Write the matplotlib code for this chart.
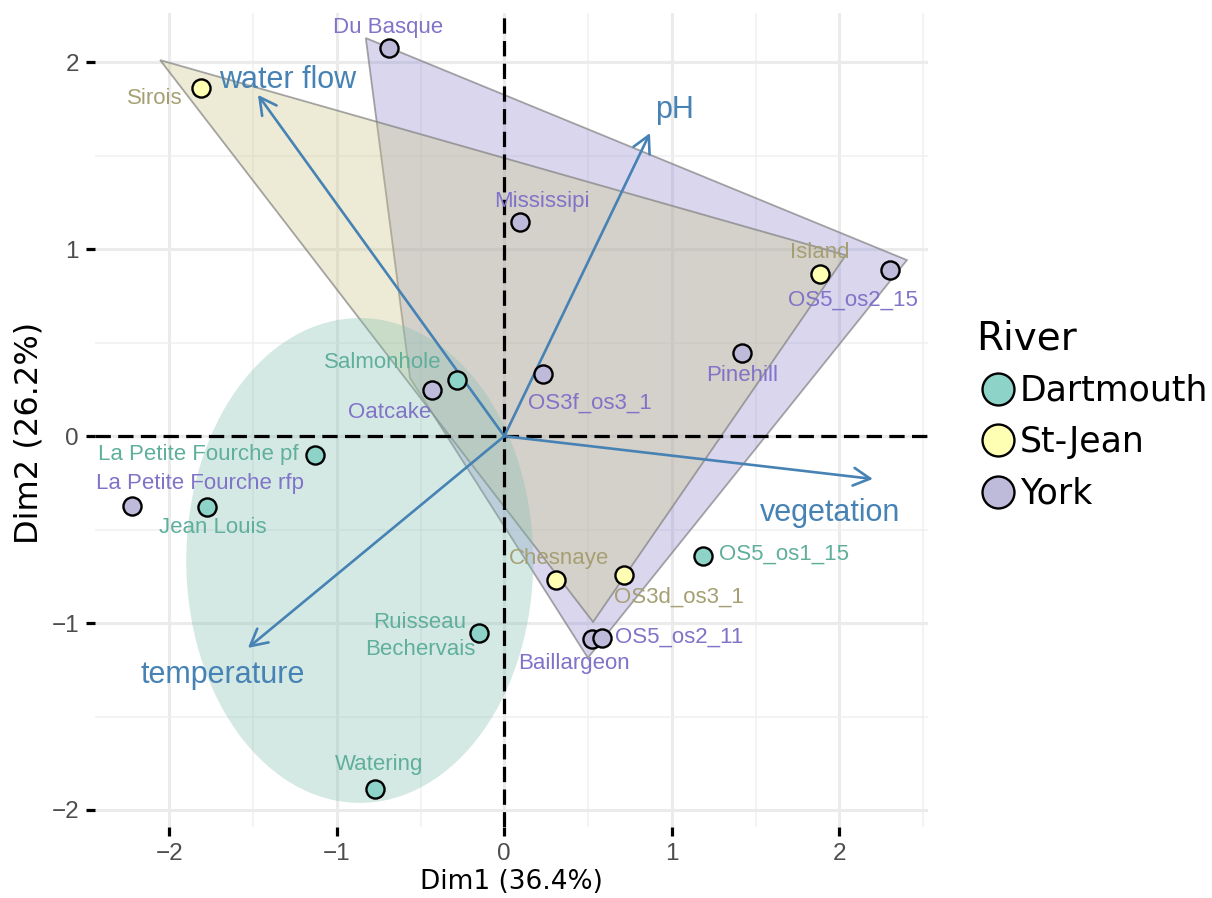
import matplotlib
matplotlib.use('Agg')
import matplotlib.pyplot as plt
from matplotlib.patches import Polygon, Ellipse
from matplotlib.lines import Line2D

plt.rcParams['font.family'] = ['Liberation Sans', 'DejaVu Sans']

# ---------------- data ----------------
sites = ['Sirois', 'Du Basque', 'Mississipi', 'Island', 'OS5_os2_15', 'Pinehill',
         'OS3f_os3_1', 'Salmonhole', 'Oatcake', 'La Petite Fourche pf',
         'La Petite Fourche rfp', 'Jean Louis', 'OS5_os1_15', 'Chesnaye',
         'OS3d_os3_1', 'Baillargeon', 'OS5_os2_11', 'Ruisseau\nBechervais', 'Watering']
rivers = ['St-Jean', 'York', 'York', 'St-Jean', 'York', 'York',
          'York', 'Dartmouth', 'York', 'Dartmouth',
          'York', 'Dartmouth', 'Dartmouth', 'St-Jean',
          'St-Jean', 'York', 'York', 'Dartmouth', 'Dartmouth']
dim1 = [-1.812, -0.688, 0.094, 1.885, 2.303, 1.419,
        0.231, -0.282, -0.432, -1.130,
        -2.223, -1.776, 1.186, 0.309,
        0.713, 0.524, 0.583, -0.151, -0.773]
dim2 = [1.863, 2.078, 1.146, 0.868, 0.889, 0.445,
        0.333, 0.300, 0.247, -0.101,
        -0.374, -0.379, -0.641, -0.770,
        -0.743, -1.085, -1.080, -1.053, -1.888]
label_x = [-2.086, -0.695, 0.225, 1.885, 2.081, 1.419,
           0.512, -0.725, -0.683, -1.829,
           -1.817, -1.739, 1.669, 0.325,
           1.042, 0.416, 1.042, -0.503, -0.748]
label_y = [1.804, 2.184, 1.253, 0.980, 0.728, 0.327,
           0.178, 0.392, 0.129, -0.097,
           -0.252, -0.488, -0.630, -0.657,
           -0.860, -1.214, -1.074, -1.069, -1.759]

variables = ['water flow', 'pH', 'vegetation', 'temperature']
var_dim1 = [-1.471, 0.870, 2.201, -1.531]
var_dim2 = [1.826, 1.622, -0.229, -1.133]
var_label_x = [-1.291, 1.019, 1.945, -1.680]
var_label_y = [1.906, 1.745, -0.411, -1.278]

river_names = ['Dartmouth', 'St-Jean', 'York']
point_colors = ['#8DD3C7', '#FFFFB3', '#BEBADA']
text_colors = ['#5FAF9B', '#A5A073', '#8073C8']

hull_stjean_x = [-2.055, 2.039, 0.530]
hull_stjean_y = [2.012, 0.968, -0.994]
hull_york_x = [-0.827, 2.404, 0.499, -0.563]
hull_york_y = [2.130, 0.942, -1.186, 0.311]
ellipse_dartmouth = dict(center=(-0.863, -0.665), width=2.072, height=2.594)

x_major = [-2, -1, 0, 1, 2]
x_minor = [-2.5, -1.5, -0.5, 0.5, 1.5, 2.5]
y_major = [-2, -1, 0, 1, 2]
y_minor = [-1.5, -0.5, 0.5, 1.5]
tick_text = ['\u22122', '\u22121', '0', '1', '2']

# ---------------- figure ----------------
W, H = 1212, 898
fig = plt.figure(figsize=(W / 100, H / 100), dpi=100)
ax = fig.add_axes([95 / W, 1 - 827 / H, (928 - 95) / W, (827 - 13) / H])

for s in ax.spines.values():
    s.set_visible(False)
ax.set_xticks(x_major)
ax.set_xticks(x_minor, minor=True)
ax.set_yticks(y_major)
ax.set_yticks(y_minor, minor=True)
ax.set_xticklabels(tick_text)
ax.set_yticklabels(tick_text)
ax.set_xlim(-2.444, 2.530)
ax.set_ylim(-2.091, 2.264)
ax.grid(which='major', color='#EBEBEB', lw=2.2, zorder=0)
ax.grid(which='minor', color='#F0F0F0', lw=1.1, zorder=0)
ax.set_axisbelow(True)
ax.tick_params(which='major', length=6.5, width=2.3, color='black',
               labelsize=17.5, labelcolor='#4D4D4D', pad=5)
ax.tick_params(which='minor', length=0)

col = dict(zip(river_names, point_colors))
tcol = dict(zip(river_names, text_colors))

# hulls and ellipse
ax.add_patch(Polygon(list(zip(hull_york_x, hull_york_y)), closed=True,
                     facecolor=(146 / 255, 138 / 255, 209 / 255, 0.35),
                     edgecolor=(0.5, 0.5, 0.5, 0.7), lw=1.3, zorder=1))
ax.add_patch(Polygon(list(zip(hull_stjean_x, hull_stjean_y)), closed=True,
                     facecolor=(204 / 255, 198 / 255, 135 / 255, 0.35),
                     edgecolor=(0.5, 0.5, 0.5, 0.7), lw=1.3, zorder=1.1))
ax.add_patch(Ellipse(ellipse_dartmouth['center'], ellipse_dartmouth['width'],
                     ellipse_dartmouth['height'],
                     facecolor=(132 / 255, 192 / 255, 178 / 255, 0.35),
                     edgecolor='none', zorder=1.2))

# dashed reference lines
ax.axhline(0, color='black', lw=2.3, ls=(0, (4.8, 2.3)), zorder=2)
ax.axvline(0, color='black', lw=2.3, ls=(0, (4.8, 2.3)), zorder=2)

# variable arrows
for v, vx, vy, lx, ly in zip(variables, var_dim1, var_dim2, var_label_x, var_label_y):
    ax.annotate('', xy=(vx, vy), xytext=(0, 0),
                arrowprops=dict(arrowstyle='->,head_length=0.6,head_width=0.32',
                                mutation_scale=20, color='#4682B4', lw=1.9,
                                shrinkA=0, shrinkB=0), zorder=3)
    ax.text(lx, ly, v, color='#4682B4', fontsize=22, ha='center', va='center', zorder=4)

# points and labels
for name, r, x, y, lx, ly in zip(sites, rivers, dim1, dim2, label_x, label_y):
    ax.scatter([x], [y], s=170, color=col[r], edgecolors='black', linewidths=1.7, zorder=5)
    ax.text(lx, ly, name, color=tcol[r], fontsize=16, ha='center', va='center',
            linespacing=1.4, zorder=6)

ax.set_xlabel('Dim1 (36.4%)', fontsize=19, color='black', labelpad=3,
              family=['DejaVu Sans'])
ax.set_ylabel('Dim2 (26.2%)', fontsize=23, color='black',
              family=['DejaVu Sans'])
ax.yaxis.set_label_coords(-0.061, (827 - 433) / 814)

# legend (manual)
fig.text(976 / W, 1 - 350 / H, 'River', fontsize=28, ha='left', va='baseline',
         family=['DejaVu Sans'])
leg_y = [389, 440, 492]
leg_base = [400, 452, 503]
for name, c, yc, yb in zip(river_names, point_colors, leg_y, leg_base):
    fig.add_artist(Line2D([998 / W], [1 - yc / H], transform=fig.transFigure,
                          marker='o', markersize=23, markerfacecolor=c,
                          markeredgecolor='black', markeredgewidth=1.7, ls='none'))
    fig.text(1020 / W, 1 - yb / H, name, fontsize=25, ha='left', va='baseline',
             family=['DejaVu Sans'])

fig.savefig('out.png', dpi=100)
